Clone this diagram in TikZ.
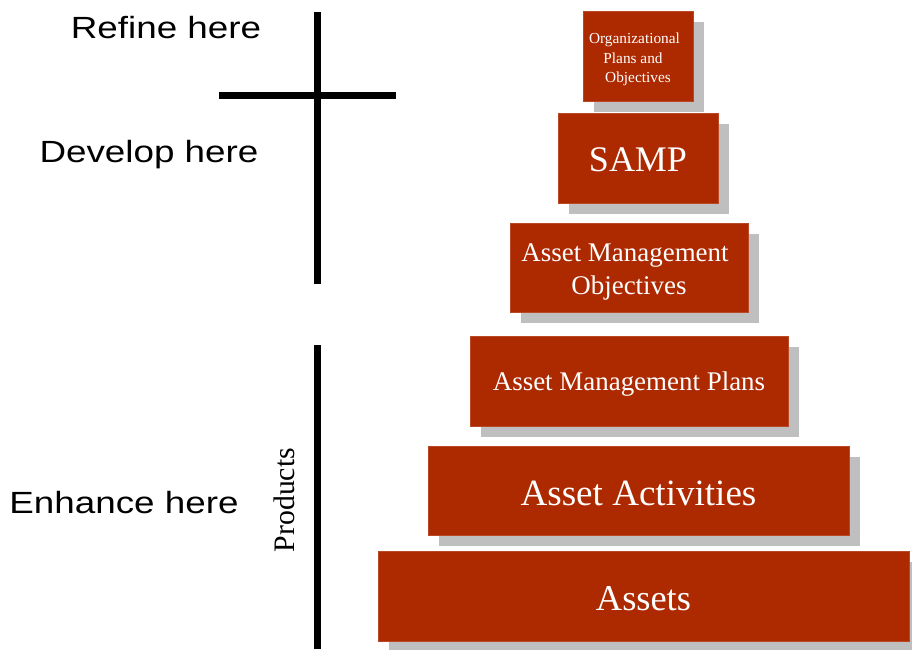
\documentclass[tikz,border=0pt]{standalone}
\usepackage{fontspec}
\setmainfont{Liberation Serif}
\newfontfamily\labelfont{Liberation Sans}
\usetikzlibrary{shadows}
\definecolor{boxred}{RGB}{173,41,0}
\definecolor{shadowgray}{RGB}{191,191,191}
\newcommand\dn[2][2.25pt]{\raisebox{-#1}[\height][\depth]{#2}}
\begin{document}
\begin{tikzpicture}[x=0.75pt,y=-0.75pt,
  stackbox/.style={rectangle, fill=boxred, draw=boxred!85!white, line width=0.5pt,
    text=white, inner sep=0pt, align=center,
    drop shadow={shadow xshift=8.25pt, shadow yshift=-8.25pt, fill=shadowgray, opacity=1}},
  sidelabel/.style={font=\labelfont\fontsize{23}{27}\selectfont, anchor=base, inner sep=0pt},
  barline/.style={line width=5.25pt, black}]
\useasboundingbox (0,0) rectangle (912,649);
% bars
\coordinate (v1t) at (317,12);
\coordinate (v1b) at (317,284);
\coordinate (hl) at (219,96);
\coordinate (hr) at (396,96);
\coordinate (v2t) at (317,345);
\coordinate (v2b) at (317,649);
\draw[barline] (v1t) -- (v1b);
\draw[barline] (hl) -- (hr);
\draw[barline] (v2t) -- (v2b);
% side labels
\node[sidelabel] (refine) at (166,39) {\scalebox{1.2}[1]{Refine here}};
\node[sidelabel] (develop) at (149,162) {\scalebox{1.2}[1]{Develop here}};
\node[sidelabel] (enhance) at (124,513) {\scalebox{1.2}[1]{Enhance here}};
\node[rotate=90, anchor=base, inner sep=0pt, font=\fontsize{22.3}{25}\selectfont] (products) at (294,500) {Products};
% boxes
\node[stackbox, minimum width=82.5pt, minimum height=67.5pt, font=\fontsize{11.5}{14.5}\selectfont] (org) at (638,56) {\dn[2.5pt]{Organizational\kern5.25pt}\\\dn[2.5pt]{Plans and\kern7.5pt}\\\dn[2.5pt]{Objectives}};
\node[stackbox, minimum width=120pt, minimum height=67.5pt, font=\fontsize{27}{30}\selectfont] (samp) at (638,158) {\dn[1.5pt]{SAMP}};
\node[stackbox, minimum width=178.5pt, minimum height=66.75pt, font=\fontsize{20.2}{24.75}\selectfont] (amo) at (629,267.5) {\dn[3pt]{Asset Management\kern6pt}\\\dn[3pt]{Objectives}};
\node[stackbox, minimum width=238.5pt, minimum height=67.5pt, font=\fontsize{20.2}{24}\selectfont] (amp) at (629,381) {\dn{Asset Management Plans}};
\node[stackbox, minimum width=315.75pt, minimum height=66.75pt, font=\fontsize{27.8}{30}\selectfont] (act) at (638.5,490.5) {\dn{Asset Activities}};
\node[stackbox, minimum width=398.25pt, minimum height=67.5pt, font=\fontsize{27.3}{30}\selectfont] (assets) at (643.5,596) {\dn{Assets}};
\end{tikzpicture}
\end{document}
